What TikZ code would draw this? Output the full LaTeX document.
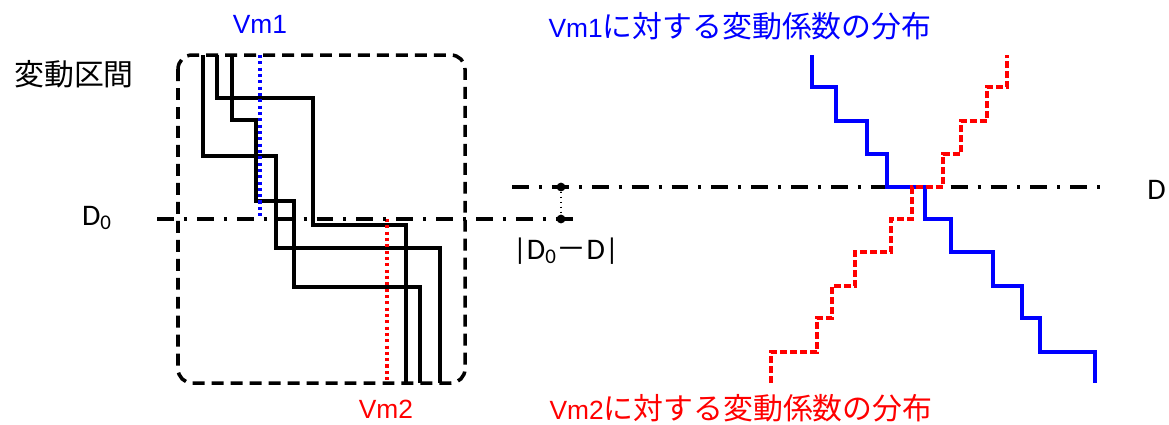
\documentclass[tikz,border=0pt]{standalone}
\usepackage{fontspec}
\setmainfont{Liberation Sans}
\newfontfamily\jpfont{Noto Sans CJK JP}
\newfontfamily\calfont{Carlito}
\usepackage{tikz}
\colorlet{vmblue}{blue}
\colorlet{vmred}{red}
\newcommand{\jp}[1]{{\fontsize{17}{20}\selectfont\jpfont #1}}
\tikzset{
  boxframe/.style={line width=2pt,dash pattern=on 6.8pt off 4pt,rounded corners=8pt},
  stepline/.style={line width=2pt},
  centerline/.style={line width=2pt,dash pattern=on 9.6pt off 5.7pt on 1.7pt off 5.7pt},
  vmoneline/.style={vmblue,line width=2.8pt,dash pattern=on 1.8pt off 1.8pt},
  vmtwoline/.style={vmred,line width=2.8pt,dash pattern=on 1.8pt off 1.8pt},
  vmonedist/.style={vmblue,line width=2pt},
  vmtwodist/.style={vmred,line width=2pt,dash pattern=on 4pt off 1.7pt},
  lbl/.style={font=\fontsize{15}{18}\selectfont,inner sep=0pt},
  dlbl/.style={font=\fontsize{17}{20}\selectfont\calfont,inner sep=0pt}
}

\begin{document}
\begin{tikzpicture}[x=0.02cm,y=-0.02cm]
      \useasboundingbox (0,0) rectangle (1169,424);

      % left panel: frame and sample paths
      \draw [boxframe] (178,55) rectangle (465,383);
      \node [lbl] (span) at (74,74) {\jp{変動区間}};

      \draw [stepline] (203,55) |- (276,156) |- (440,248) -- (440,383);
      \draw [stepline] (217,55) |- (313,98) |- (406,225) -- (406,383);
      \draw [stepline] (232,55) |- (256,120) |- (294,201) |- (420,287) -- (420,383);

      \node [lbl,text=vmblue] (vmone) at (260,24) {Vm1};
      \node [lbl,text=vmred] (vmtwo) at (386,409) {Vm2};
      \coordinate (vmonetop) at (260,55);
      \coordinate (vmonebot) at (260,219);
      \coordinate (vmtwotop) at (387,219);
      \coordinate (vmtwobot) at (387,383);
      \draw [vmoneline] (vmonetop) -- (vmonebot);
      \draw [vmtwoline] (vmtwotop) -- (vmtwobot);

      % reference levels
      \coordinate (dzeroleft) at (157,219);
      \coordinate (dzeroright) at (576,219);
      \coordinate (dleft) at (512,187);
      \coordinate (dright) at (1108,187);
      \draw [centerline] (dzeroleft) -- (dzeroright);
      \draw [centerline] (dleft) -- (dright);
      \node [dlbl] (dzero) at (97,218) {D\textsubscript{0}};
      \node [dlbl,anchor=west] (dval) at (1147,190) {D};

      \coordinate (dtop) at (561,187);
      \coordinate (dbot) at (561,219);
      \fill (dtop) circle (2.5pt);
      \fill (dbot) circle (2.5pt);
      \draw [thick,dotted] (dtop) -- (dbot);
      \node [dlbl] (diff) at (566,251)
        {|D\textsubscript{0}{\jpfont －}D|};

      % right panel: distributions
      \node [lbl,text=vmblue] (vmonetitle) at (740,26) {Vm1\jp{に対する変動係数の分布}};
      \node [lbl,text=vmred] (vmtwotitle) at (741,408) {Vm2\jp{に対する変動係数の分布}};

      \draw [vmonedist] (812,55) |- (836,87) |- (867,121) |- (887,154) |- (925,187)
        |- (951,219) |- (993,252) |- (1022,286) |- (1040,318) |- (1095,352) -- (1095,383);
      \draw [vmtwodist] (771,383) |- (817,352) |- (832,318) |- (855,286) |- (891,252)
        |- (912,219) |- (943,187) |- (961,154) |- (987,121) |- (1007,87) -- (1007,55);

\end{tikzpicture}
\end{document}
